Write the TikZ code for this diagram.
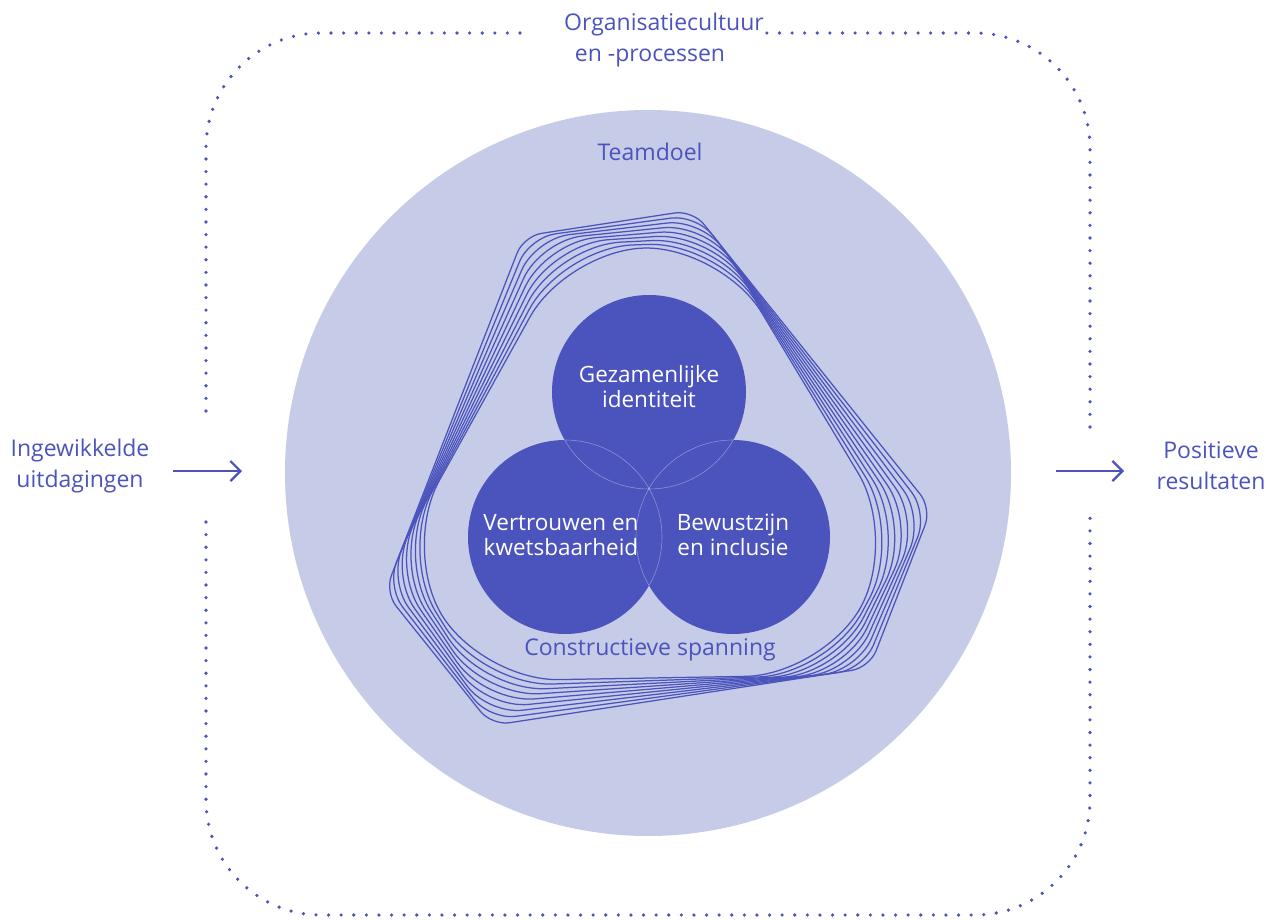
\documentclass[tikz,border=0pt]{standalone}
\usepackage{fontspec}
\setmainfont{Open Sans}
\usetikzlibrary{arrows.meta}
\definecolor{ink}{RGB}{75,83,188}
\definecolor{haze}{RGB}{198,203,232}
\tikzset{
  lbl/.style={text=ink,align=center,font=\fontsize{23}{31}\selectfont},
  inlbl/.style={text=white,align=center,font=\fontsize{22.5}{25}\selectfont},
  pillar/.style={circle,fill=ink,minimum size=194pt,inner sep=0pt},
  dots/.style={ink,line width=3.6pt,line cap=round,dash pattern=on 0pt off 12.6pt,rounded corners=115pt},
  flow/.style={ink,line width=2.2pt,-{Straight Barb[length=10pt,width=20pt]}},
  ring/.style={ink,line width=1.25pt},
  seam/.style={white,opacity=.35,line width=.6pt},
}
\begin{document}
\begin{tikzpicture}[x=1pt,y=-1pt]
\useasboundingbox (0,0) rectangle (1267,919);
\coordinate (ctr) at (649,490);
% team goal disc
\fill[haze] (648,473) circle (363);
\node[lbl] (goal) at (650,152) {Teamdoel};
% dotted frame, open for the labels
\draw[dots] (520,33) -- (206,33) -- (206,423);
\draw[dots] (206,522) -- (206,915) -- (1090,915) -- (1090,518);
\draw[dots] (1090,427) -- (1090,33) -- (766,33);
\node[lbl] (culture) at (664,40) {Organisatiecultuur\\\hspace*{-28pt}en -processen};
% in and out
\node[lbl] (input) at (80,466) {Ingewikkelde\\uitdagingen};
\node[lbl] (output) at (1211,466) {Positieve\\resultaten};
\coordinate (inA) at (173,471);
\coordinate (inB) at (242,471);
\coordinate (outA) at (1056,471);
\coordinate (outB) at (1124,471);
\draw[flow] (inA) -- (inB);
\draw[flow] (outA) -- (outB);
% tension rings
\foreach \k in {0,...,8}{
  \pgfmathsetmacro{\f}{\k/8}
  \pgfmathsetmacro{\r}{188+21*\f}
  \pgfmathsetmacro{\h}{242+28*\f}
  \pgfmathsetmacro{\w}{(2*\r-\h)*tan(30)}
  \pgfmathsetmacro{\rr}{veclen(\h,\w)}
  \pgfmathsetmacro{\b}{atan(\w/\h)}
  \pgfmathsetmacro{\rot}{1+7.7*\f}
  \pgfmathsetmacro{\rc}{\w*(1-\f)+18*\f}
  \draw[ring,rounded corners=\rc pt,shift={(ctr)},rotate=\rot]
    (90:\r) -- ({150-\b}:\rr) -- ({150+\b}:\rr) -- ({270-\b}:\rr)
    -- ({270+\b}:\rr) -- ({390-\b}:\rr) -- ({390+\b}:\rr) -- cycle;
}
\node[lbl] (tension) at (650,650) {Constructieve spanning};
% three pillars
\node[pillar] (ident) at (649,392) {};
\node[pillar] (trust) at (565,537) {};
\node[pillar] (aware) at (733,537) {};
\foreach \a/\b in {ident/trust,ident/aware,trust/ident,trust/aware,aware/ident,aware/trust}{
  \begin{scope}
    \clip (\b) circle (97);
    \draw[seam] (\a) circle (97);
  \end{scope}
}
\node[inlbl,yshift=5pt] (identtext) at (ident) {Gezamenlijke\\identiteit};
\node[inlbl,xshift=-4pt,yshift=2pt] (trusttext) at (trust) {Vertrouwen en\\kwetsbaarheid};
\node[inlbl,yshift=2pt] (awaretext) at (aware) {Bewustzijn\\en inclusie};
\end{tikzpicture}
\end{document}
